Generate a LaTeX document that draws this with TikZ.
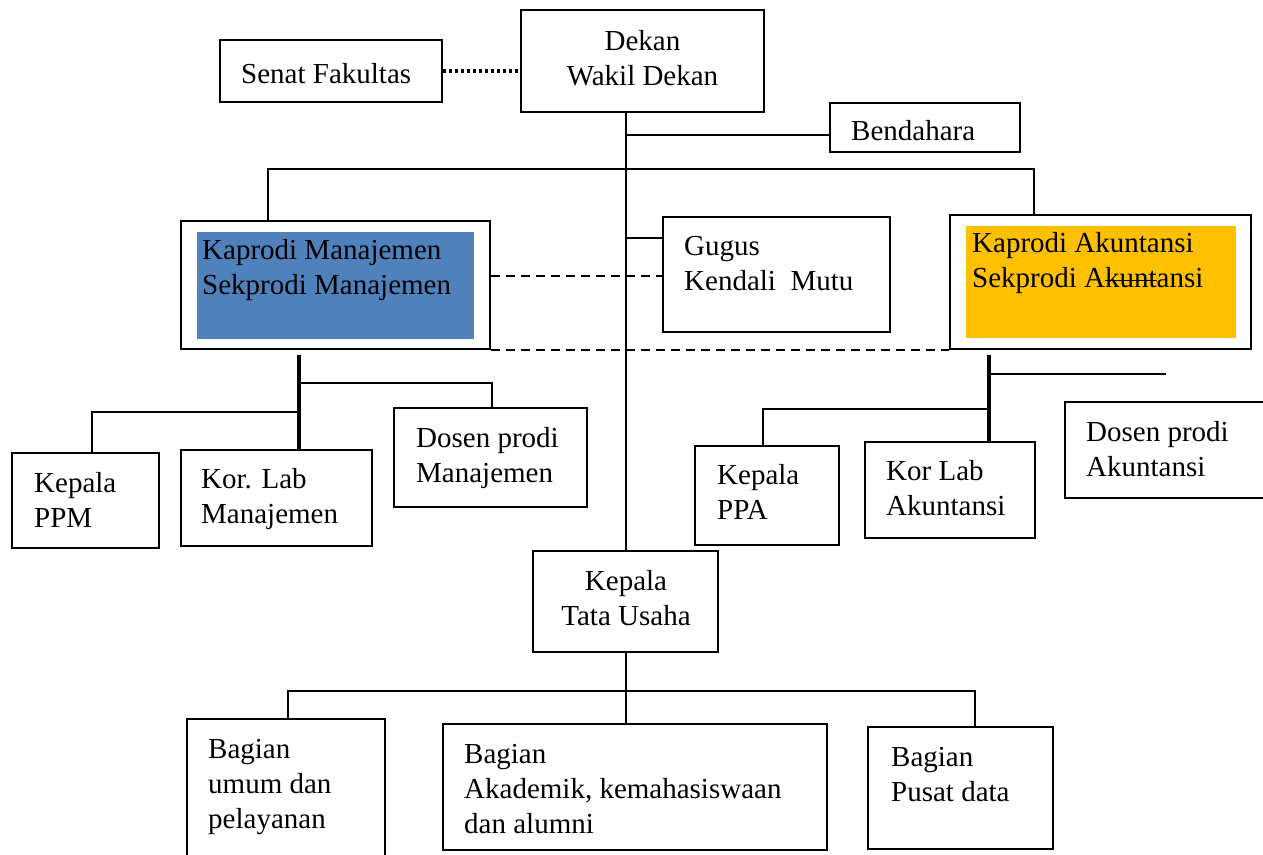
\documentclass[tikz,border=0pt]{standalone}
\usepackage{fontspec}
\setmainfont{Liberation Serif}
\usetikzlibrary{calc}
\definecolor{mblue}{HTML}{4F81BD}
\definecolor{agold}{HTML}{FFC000}
\newcommand\strk[1]{\leavevmode\setbox0\hbox{#1}\rlap{\rule[0.2em]{\wd0}{1.3pt}}\box0}
\begin{document}
\begin{tikzpicture}[x=1pt,y=-1pt,
  every node/.style={font=\fontsize{29}{35}\selectfont},
  box/.style={draw, line width=1.9pt, rectangle, inner sep=0pt},
  fillbox/.style={rectangle, inner sep=0pt},
  lbl/.style={anchor=north west, inner sep=0pt, align=left, yshift=24.5pt},
  clbl/.style={anchor=north, inner sep=0pt, align=center, yshift=24.5pt},
  conn/.style={line width=2pt},
  trunk/.style={line width=4pt},
  dash line/.style={line width=1.6pt, dash pattern=on 9pt off 6pt},
  dot line/.style={line width=3.5pt, dash pattern=on 3.5pt off 2.5pt}]
\useasboundingbox (0,0) rectangle (1263,854);
\clip (0,0) rectangle (1263,854);
\fill[white] (0,0) rectangle (1263,854);

% boxes
\node[box, minimum width=222pt, minimum height=62pt] (senat) at (331,71) {};
\node[box, minimum width=243pt, minimum height=102pt] (dekan) at (642.5,61) {};
\node[box, minimum width=190pt, minimum height=49pt] (bend) at (925,127.5) {};
\node[box, minimum width=309pt, minimum height=128pt] (kapm) at (335.5,285) {};
\node[fillbox, fill=mblue, minimum width=277pt, minimum height=107pt] (kapmf) at (335.5,285.5) {};
\node[box, minimum width=227pt, minimum height=115pt] (gugus) at (776.5,274.5) {};
\node[box, minimum width=301pt, minimum height=134pt] (kapa) at (1100.5,282) {};
\node[fillbox, fill=agold, minimum width=270pt, minimum height=112pt] (kapaf) at (1101,282) {};
\node[box, minimum width=147pt, minimum height=95pt] (ppm) at (85.5,500.5) {};
\node[box, minimum width=191pt, minimum height=96pt] (korm) at (276.5,498) {};
\node[box, minimum width=193pt, minimum height=99pt] (dosm) at (490.5,457.5) {};
\node[box, minimum width=144pt, minimum height=99pt] (ppa) at (767,495.5) {};
\node[box, minimum width=170pt, minimum height=96pt] (kora) at (950,490) {};
\node[box, minimum width=210pt, minimum height=96pt] (dosa) at (1170,450) {};
\node[box, minimum width=185pt, minimum height=101pt] (ktu) at (625.5,601.5) {};
\node[box, minimum width=198pt, minimum height=151pt] (umum) at (286,794.5) {};
\node[box, minimum width=384pt, minimum height=126pt] (akad) at (635,787) {};
\node[box, minimum width=185pt, minimum height=122pt] (pusat) at (960.5,788) {};

% texts
\node[lbl] (t-senat) at (241,83) {\strut Senat Fakultas};
\node[clbl] (t-dekan) at (642.5,50) {\strut Dekan\\Wakil Dekan};
\node[lbl] (t-bend) at (851,140) {\strut Bendahara};
\node[lbl] (t-kapm) at (202,259) {\strut Kaprodi Manajemen\\Sekprodi Manajemen};
\node[lbl] (t-gugus) at (684,255) {\strut Gugus\\Kendali\ \ Mutu};
\node[lbl] (t-kapa) at (972,252) {\strut Kaprodi Akuntansi\\Sekprodi A\strk{kunt}ansi};
\node[lbl] (t-ppm) at (34,492) {\strut Kepala\\PPM};
\node[lbl] (t-korm) at (201,488) {\strut Kor. Lab\\Manajemen};
\node[lbl] (t-dosm) at (416,447) {\strut Dosen prodi\\Manajemen};
\node[lbl] (t-ppa) at (717,484) {\strut Kepala\\PPA};
\node[lbl] (t-kora) at (886,480) {\strut Kor Lab\\Akuntansi};
\node[lbl] (t-dosa) at (1086,441) {\strut Dosen prodi\\Akuntansi};
\node[clbl] (t-ktu) at (626,590) {\strut Kepala\\Tata Usaha};
\node[lbl] (t-umum) at (208,758) {\strut Bagian\\umum dan\\pelayanan};
\node[lbl] (t-akad) at (464,763) {\strut Bagian\\Akademik, kemahasiswaan\\dan alumni};
\node[lbl] (t-pusat) at (891,766) {\strut Bagian\\Pusat data};

% connectors
\draw[dot line] (senat.east) -- (dekan.west |- senat.east);
\draw[conn] (dekan.south -| ktu.north) -- (ktu.north);
\coordinate (bendA) at ($(bend.west)+(0,7)$);
\draw[conn] (ktu.north |- bendA) -- (bendA);
\coordinate (barL) at (268,169);
\coordinate (barR) at (1034,169);
\draw[conn] (barL |- kapm.north) -- (barL) -- (barR) -- (barR |- kapa.north);
\coordinate (gugA) at ($(gugus.west)+(0,-36.5)$);
\draw[conn] (ktu.north |- gugA) -- (gugA);
\coordinate (dashA) at ($(kapm.east)+(0,-9)$);
\draw[dash line] (dashA) -- (gugus.west |- dashA);
\draw[dash line] (kapm.south east) -- (kapa.south west);

% Manajemen subtree
\coordinate (mtop) at (299,355);
\draw[trunk] (mtop) -- (mtop |- korm.north);
\coordinate (mR) at (299,383);
\coordinate (mRe) at (492,383);
\draw[conn] (mR) -- (mRe) -- (mRe |- dosm.north);
\coordinate (mL) at (299,412);
\coordinate (mLe) at (92,412);
\draw[conn] (mL) -- (mLe) -- (mLe |- ppm.north);

% Akuntansi subtree
\coordinate (atop) at (989,355);
\draw[trunk] (atop) -- (atop |- kora.north);
\coordinate (aR) at (989,374);
\coordinate (aRe) at (1166,374);
\draw[conn] (aR) -- (aRe);
\coordinate (aL) at (989,409);
\coordinate (aLe) at (763,409);
\draw[conn] (aL) -- (aLe) -- (aLe |- ppa.north);

% Tata Usaha subtree
\draw[conn] (ktu.south) -- (ktu.south |- akad.north);
\coordinate (bL) at (288,691);
\coordinate (bR) at (975,691);
\draw[conn] (bL |- umum.north) -- (bL) -- (bR) -- (bR |- pusat.north);
\end{tikzpicture}
\end{document}
